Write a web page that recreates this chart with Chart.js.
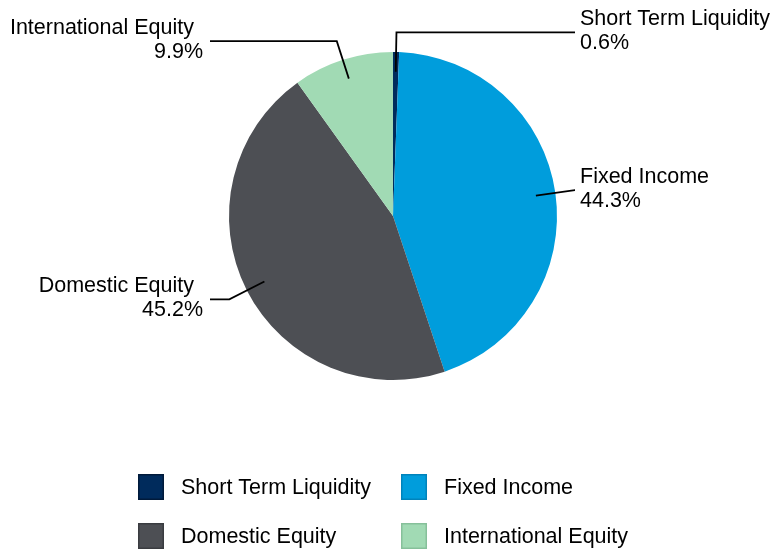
<!DOCTYPE html>
<html>
<head>
<meta charset="utf-8">
<script src="https://cdn.jsdelivr.net/npm/chart.js@4.4.1/dist/chart.umd.min.js"></script>
<style>
  html, body { margin: 0; padding: 0; background: #fff; }
  #wrap { width: 771px; height: 550px; position: relative; }
</style>
</head>
<body>
<div id="wrap"><canvas id="pie-chart" width="771" height="550"></canvas></div>
<script>
// allocation data
var labels = ["Short Term Liquidity", "Fixed Income", "Domestic Equity", "International Equity"];
var values = [0.6, 44.3, 45.2, 9.9];
var colors = ["#002b5c", "#009ddc", "#4d4f54", "#a1dab4"];
var borderColors = ["#001a3a", "#0083bb", "#3a3c40", "#86c09a"];

var FONT = "'Liberation Sans', Arial, sans-serif";

// leader lines + two line labels outside the pie
var outLabels = {
    id: 'outLabels',
    afterDatasetsDraw: function (chart) {
        var ctx = chart.ctx;
        var arcs = chart.getDatasetMeta(0).data;
        ctx.save();
        ctx.strokeStyle = "#000";
        ctx.lineWidth = 1.8;
        ctx.fillStyle = "#000";
        ctx.font = "21.5px " + FONT;
        ctx.textBaseline = "middle";
        for (var i = 0; i < arcs.length; i++) {
            var a = arcs[i];
            var mid = (a.startAngle + a.endAngle) / 2;
            var r = a.outerRadius;
            var x0 = a.x + Math.cos(mid) * r * 0.88, y0 = a.y + Math.sin(mid) * r * 0.88;
            var x1 = a.x + Math.cos(mid) * r * 1.12, y1 = a.y + Math.sin(mid) * r * 1.12;
            var right = Math.cos(mid) >= 0;
            var x2 = right ? a.x + 182 : a.x - 183;
            ctx.beginPath();
            ctx.moveTo(x0, y0);
            ctx.lineTo(x1, y1);
            ctx.lineTo(x2, y1);
            ctx.stroke();
            ctx.textAlign = right ? "left" : "right";
            var tx = right ? x2 + 5 : x2 - 7;
            // left-side names sit a little further in (trailing space in original)
            ctx.fillText(labels[i], right ? tx : tx - 9, y1 - 13);
            ctx.fillText(values[i].toFixed(1) + "%", tx, y1 + 11);
        }
        ctx.restore();
    }
};

// 2 x 2 legend at the bottom
var gridLegend = {
    id: 'gridLegend',
    afterDraw: function (chart) {
        var ctx = chart.ctx;
        var colX = [138, 401];
        var rowY = [474, 523];
        ctx.save();
        ctx.font = "21.5px " + FONT;
        ctx.textBaseline = "middle";
        ctx.textAlign = "left";
        for (var i = 0; i < labels.length; i++) {
            var bx = colX[i % 2], by = rowY[Math.floor(i / 2)];
            ctx.fillStyle = colors[i];
            ctx.fillRect(bx, by, 26, 26);
            ctx.strokeStyle = borderColors[i];
            ctx.lineWidth = 1.5;
            ctx.strokeRect(bx + 0.75, by + 0.75, 24.5, 24.5);
            ctx.fillStyle = "#000";
            ctx.fillText(labels[i], bx + 43, by + 14);
        }
        ctx.restore();
    }
};

new Chart(document.getElementById("pie-chart"), {
    type: 'pie',
    data: {
        labels: labels,
        datasets: [{
            data: values,
            backgroundColor: colors,
            borderWidth: 0
        }]
    },
    options: {
        responsive: false,
        animation: false,
        layout: { padding: { top: 52, bottom: 170, left: 229, right: 214 } },
        plugins: {
            legend: { display: false },
            tooltip: { enabled: false }
        }
    },
    plugins: [outLabels, gridLegend]
});
</script>
</body>
</html>
